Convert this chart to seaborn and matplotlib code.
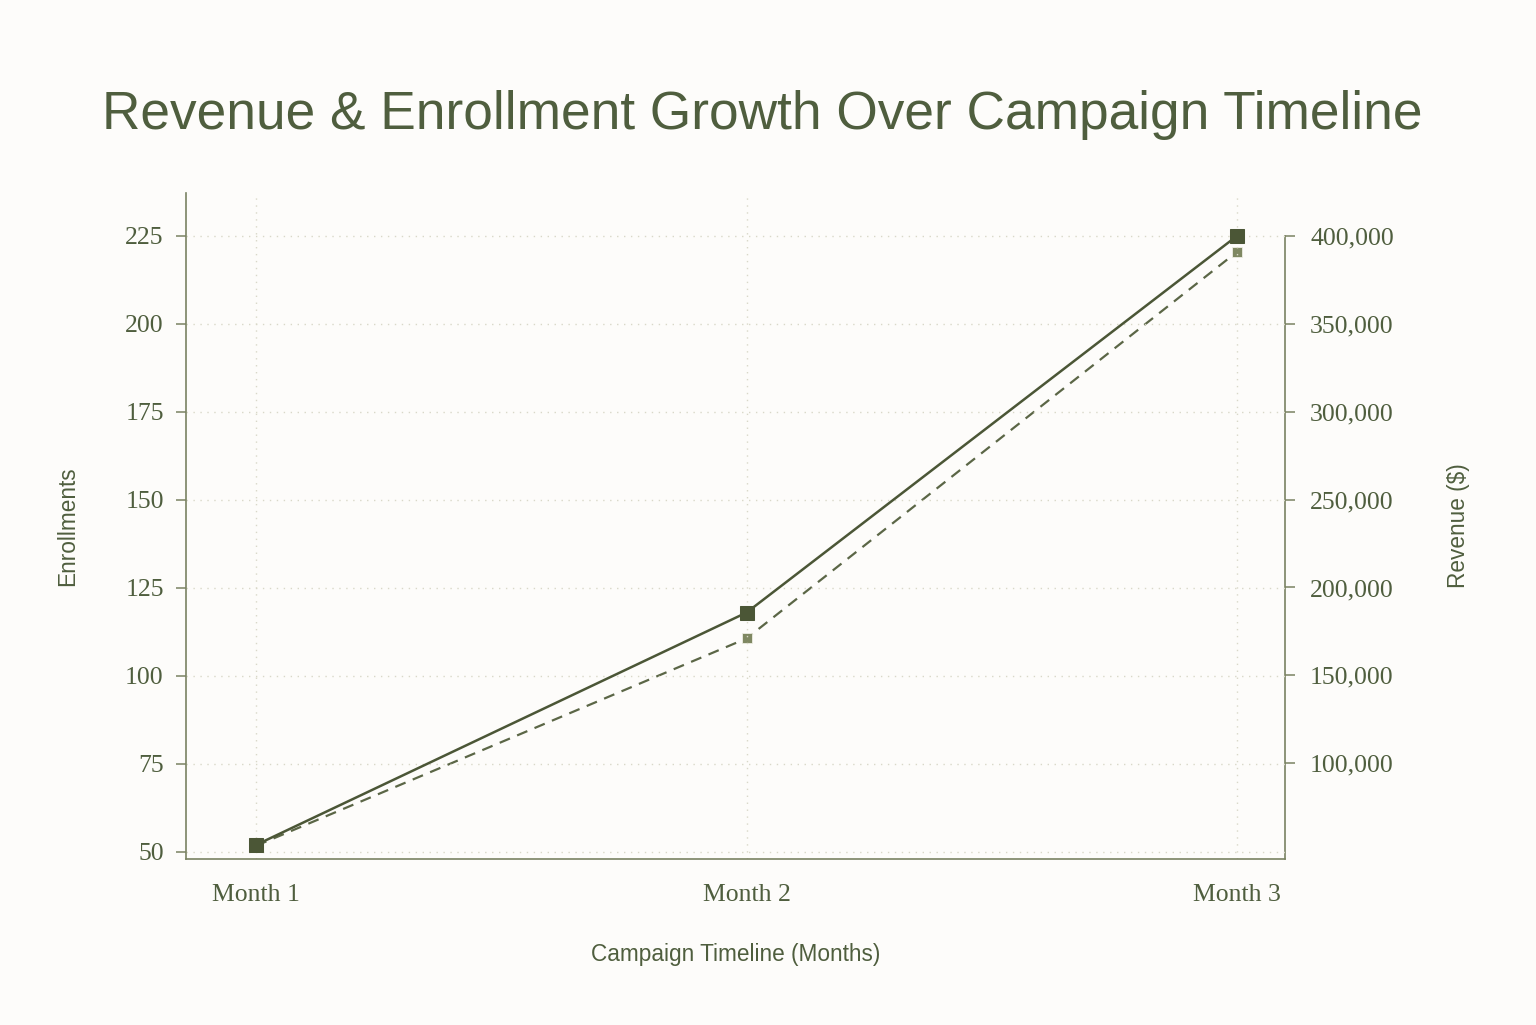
import pandas as pd
import matplotlib
matplotlib.use("Agg")
import matplotlib.pyplot as plt
import matplotlib.ticker as mticker
import seaborn as sns

# data
months = ["Month 1", "Month 2", "Month 3"]
enrollments = [52, 118, 225]
revenue = [53000, 171000, 391000]

df = pd.DataFrame({"Month": months, "Enrollments": enrollments, "Revenue": revenue})
df["x"] = range(len(months))

# colours
bg = "#fdfcfa"
olive_dark = "#4b5636"
olive_mid = "#5b6646"
olive_light = "#7f8862"
axis_col = "#7a8262"
grid_col = "#d9d8c8"
text_col = "#4f5e3e"

sns.set_style("white")
plt.rcParams["font.family"] = ["Liberation Sans", "DejaVu Sans"]

fig = plt.figure(figsize=(15.36, 10.25), dpi=100, facecolor=bg)
ax = fig.add_axes([0.1211, 0.1620, 0.7155, 0.6497])
ax2 = ax.twinx()
# enrollments line on top of revenue line
ax.set_zorder(ax2.get_zorder() + 1)
ax.patch.set_visible(False)

# enrollments - solid line, left axis
sns.lineplot(data=df, x="x", y="Enrollments", ax=ax, color=olive_dark, linewidth=1.8,
             marker="s", markersize=10, markeredgecolor=olive_dark, markerfacecolor=olive_dark,
             zorder=4)
# revenue - dashed line, right axis
sns.lineplot(data=df, x="x", y="Revenue", ax=ax2, color=olive_mid, linewidth=1.6,
             linestyle=(0, (5, 3.5)), marker="s", markersize=7.5,
             markerfacecolor=olive_light, markeredgecolor="#eeeee4", markeredgewidth=0.6,
             zorder=3)

ax.set_xlim(-0.143, 2.098)
ax.set_ylim(48, 237.2)
ax.set_yticks([50, 75, 100, 125, 150, 175, 200, 225])
ax2.set_ylim(45500, 424500)
ax2.set_yticks([100000, 150000, 200000, 250000, 300000, 350000, 400000])
ax2.yaxis.set_major_formatter(mticker.FuncFormatter(lambda v, p: f"{int(v):,}"))

ax.set_xticks(df["x"])
ax.set_xticklabels(months)

# grid on primary axis
ax.grid(True, linestyle=(0, (1, 4)), color=grid_col, linewidth=1.0)
ax.set_axisbelow(True)

# spines
for a in (ax, ax2):
    a.spines["top"].set_visible(False)
    for s in ("left", "right", "bottom"):
        a.spines[s].set_color(axis_col)
        a.spines[s].set_linewidth(1.2)
ax.spines["right"].set_visible(False)
ax2.spines["left"].set_visible(False)
ax2.spines["bottom"].set_visible(False)
ax2.spines["right"].set_bounds(45500, 400000)

serif = ["Liberation Serif", "DejaVu Serif"]
ax.tick_params(axis="y", direction="out", length=7, width=1.1, color=axis_col,
               labelcolor=text_col, labelsize=18.5, pad=9)
ax.tick_params(axis="x", direction="in", length=7, width=1.0, color=axis_col,
               labelcolor=text_col, labelsize=18.5, pad=18)
ax2.tick_params(axis="y", direction="out", length=7, width=1.1, color=axis_col,
                labelcolor=text_col, labelsize=18.5, pad=11)
for lab in ax.get_xticklabels() + ax.get_yticklabels() + ax2.get_yticklabels():
    lab.set_family(serif)

ax.set_xlabel("Campaign Timeline (Months)", fontsize=16.3, color=text_col, labelpad=27)
ax.set_ylabel("Enrollments", fontsize=16.3, color=text_col, labelpad=33)
ax2.set_ylabel("Revenue ($)", fontsize=16.3, color=text_col, labelpad=38)

fig.suptitle("Revenue & Enrollment Growth Over Campaign Timeline", x=0.496, y=0.912,
             fontsize=38.3, color=text_col)

fig.savefig("out.png", dpi=100, facecolor=bg)
